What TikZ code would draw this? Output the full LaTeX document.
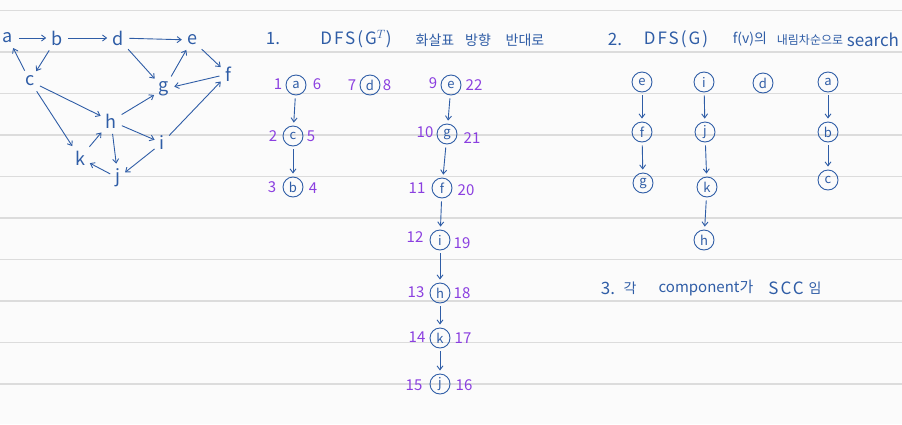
\documentclass[tikz,border=0pt]{standalone}
\usepackage{fontspec}
\setmainfont{Noto Sans CJK KR}
\newfontfamily\spacedfont[LetterSpace=12]{Noto Sans CJK KR}
\usetikzlibrary{arrows.meta}
\definecolor{ink}{HTML}{2F5DA6}
\definecolor{num}{HTML}{8B3FE0}
\definecolor{rule}{HTML}{DCDCDC}
\definecolor{paper}{HTML}{FBFBFB}
\tikzset{
  gl/.style={text=ink, font=\fontsize{18}{18}\selectfont, inner sep=2pt},
  ge/.style={draw=ink, line width=0.9pt, -{Straight Barb[length=4pt,width=6pt]}, shorten >=3pt, shorten <=3.5pt},
  cn/.style={circle, draw=ink, line width=0.9pt, text=ink, minimum size=20pt, inner sep=0pt, font=\fontsize{13}{13}\selectfont},
  te/.style={draw=ink, line width=0.9pt, -{Straight Barb[length=4pt,width=6pt]}, shorten >=3pt, shorten <=3pt},
  nm/.style={text=num, font=\fontsize{15}{15}\selectfont, inner sep=0pt},
  tt/.style={text=ink, font=\fontsize{17}{17}\selectfont, inner sep=0pt},
  ts/.style={text=ink, font=\spacedfont\fontsize{17}{17}\selectfont, inner sep=0pt},
  tk/.style={text=ink, font=\fontsize{14}{14}\selectfont, inner sep=0pt},
}
\begin{document}
\begin{tikzpicture}[x=1pt,y=-1pt]
\fill[paper] (0,0) rectangle (902,424);
\useasboundingbox (0,0) rectangle (902,424);
\foreach \yy in {10.5,52,93.5,135,176.5,218,259.5,301,342.5,384}
  \draw[rule, line width=1.2pt] (0,\yy) -- (902,\yy);

% ---- graph G
\node[gl] (ga) at (8,38) {a};
\node[gl] (gb) at (57,38) {b};
\node[gl] (gd) at (118,38) {d};
\node[gl] (gee) at (192,40) {e};
\node[gl] (gf) at (228,74) {f};
\node[gl] (gc) at (30,81) {c};
\node[gl] (gg) at (164,89) {g};
\node[gl] (gh) at (111,121) {h};
\node[gl] (gi) at (162,143) {i};
\node[gl] (gk) at (80,158) {k};
\node[gl] (gj) at (118,178) {j};
\draw[ge] (ga) -- (gb);
\draw[ge] (gb) -- (gd);
\draw[ge] (gd) -- (gee);
\draw[ge] (gee) -- (gf);
\draw[ge] (gc) -- (ga);
\draw[ge] (gb) -- (gc);
\draw[ge] (gd) -- (gg);
\draw[ge] (gg) -- (gee);
\draw[ge] (gf) -- (gg);
\draw[ge] (gc) -- (gh);
\draw[ge] (gc) -- (gk);
\draw[ge] (gh) -- (gg);
\draw[ge] (gh) -- (gi);
\draw[ge] (gh) -- (gj);
\draw[ge] (gk) -- (gh);
\draw[ge] (gj) -- (gk);
\draw[ge] (gi) -- (gj);
\draw[ge] (gi) -- (gf);

% ---- section 1
\node[tt] (t1n) at (273,39) {1.};
\node[ts] (t1a) at (356,39) {DFS(G$^{T}$)};
\node[tk] (t1b) at (435,40) {화살표};
\node[tk] (t1c) at (478,40) {방향};
\node[tk] (t1d) at (525,40) {반대로};

\node[cn] (pa) at (296,85) {a};
\node[cn] (pc) at (293,136) {c};
\node[cn] (pb) at (293,187) {b};
\node[cn] (pd) at (370,85) {d};
\node[cn] (pe) at (451,85) {e};
\node[cn] (pg) at (447,134) {g};
\node[cn] (pf) at (442,188) {f};
\node[cn] (pi) at (440,240) {i};
\node[cn] (ph) at (440,293) {h};
\node[cn] (pk) at (440,338) {k};
\node[cn] (pj) at (440,384) {j};
\draw[te] (pa) -- (pc);
\draw[te] (pc) -- (pb);
\draw[te] (pe) -- (pg);
\draw[te] (pg) -- (pf);
\draw[te] (pf) -- (pi);
\draw[te] (pi) -- (ph);
\draw[te] (ph) -- (pk);
\draw[te] (pk) -- (pj);

\node[nm] (n1) at (278,84) {1};
\node[nm] (n6) at (317,84) {6};
\node[nm] (n2) at (273,136) {2};
\node[nm] (n5) at (311,136) {5};
\node[nm] (n3) at (272,187) {3};
\node[nm] (n4) at (313,188) {4};
\node[nm] (n7) at (352,85) {7};
\node[nm] (n8) at (387,85) {8};
\node[nm] (n9) at (433,83) {9};
\node[nm] (n22) at (474,85) {22};
\node[nm] (n10) at (425,132) {10};
\node[nm] (n21) at (472,138) {21};
\node[nm] (n11) at (417,188) {11};
\node[nm] (n20) at (466,190) {20};
\node[nm] (n12) at (415,237) {12};
\node[nm] (n19) at (462,243) {19};
\node[nm] (n13) at (416,292) {13};
\node[nm] (n18) at (462,293) {18};
\node[nm] (n14) at (417,337) {14};
\node[nm] (n17) at (463,338) {17};
\node[nm] (n15) at (414,385) {15};
\node[nm] (n16) at (464,385) {16};

% ---- section 2
\node[tt] (t2n) at (615,39) {2.};
\node[ts] (t2a) at (676,39) {DFS(G)};
\node[tk] (t2b) at (750,39) {f(v)의};
\node[tk] (t2c) at (810,40) {\fontsize{12}{12}\selectfont 내림차순으로};
\node[tt] (t2d) at (873,40) {search};

\node[cn] (qe) at (642,82) {e};
\node[cn] (qf) at (642,132) {f};
\node[cn] (qg) at (643,183) {g};
\node[cn] (qi) at (704,82) {i};
\node[cn] (qj) at (705,132) {j};
\node[cn] (qk) at (707,187) {k};
\node[cn] (qh) at (704,240) {h};
\node[cn] (qd) at (763,83) {d};
\node[cn] (qa) at (828,82) {a};
\node[cn] (qb) at (828,132) {b};
\node[cn] (qc) at (828,180) {c};
\draw[te] (qe) -- (qf);
\draw[te] (qf) -- (qg);
\draw[te] (qi) -- (qj);
\draw[te] (qj) -- (qk);
\draw[te] (qk) -- (qh);
\draw[te] (qa) -- (qb);
\draw[te] (qb) -- (qc);

% ---- section 3
\node[tt] (t3n) at (608,288) {3.};
\node[tk] (t3a) at (630,288) {각};
\node[tk] (t3b) at (706,288) {\fontsize{15}{15}\selectfont component가};
\node[ts] (t3c) at (786,288) {SCC};
\node[tk] (t3d) at (815,288) {임};
\end{tikzpicture}
\end{document}
